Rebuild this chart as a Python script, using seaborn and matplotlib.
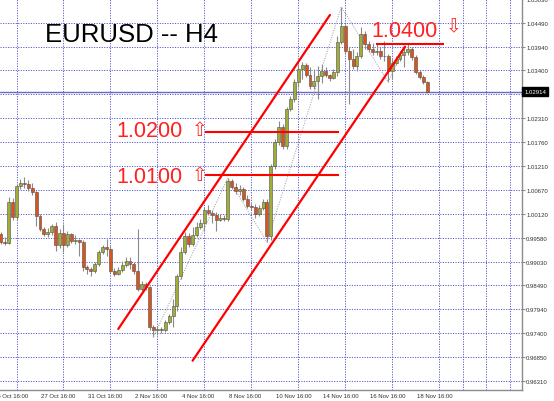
import numpy as np
import pandas as pd
import matplotlib
matplotlib.use("Agg")
import matplotlib.pyplot as plt
import matplotlib.transforms as mtransforms
import seaborn as sns

# EURUSD H4 candles, bar 0 = 27 Oct 16:00, first bar = -10
first_open = 0.9966
closes = [0.9948, 0.9946, 1.0039, 1.0005, 1.0076, 1.0083, 1.0080, 1.0071, 1.0062, 1.0007,
          0.9978, 0.9966, 0.9971, 0.9984, 0.9941, 0.9968, 0.9941, 0.9966, 0.9950, 0.9952,
          0.9948, 0.9891, 0.9886, 0.9882, 0.9898, 0.9925, 0.9936, 0.9932, 0.9882, 0.9875,
          0.9884, 0.9895, 0.9904, 0.9898, 0.9882, 0.9841, 0.9852, 0.9845, 0.9754, 0.9747,
          0.9749, 0.9747, 0.9765, 0.9779, 0.9802, 0.9870, 0.9925, 0.9962, 0.9943, 0.9964,
          0.9982, 0.9991, 1.0021, 1.0014, 1.0010, 0.9998, 1.0003, 1.0000, 1.0087, 1.0074,
          1.0064, 1.0069, 1.0046, 1.0030, 1.0028, 1.0012, 1.0026, 1.0039, 0.9962, 1.0122,
          1.0176, 1.0211, 1.0167, 1.0252, 1.0275, 1.0313, 1.0343, 1.0352, 1.0329, 1.0304,
          1.0316, 1.0327, 1.0339, 1.0329, 1.0323, 1.0336, 1.0405, 1.0441, 1.0384, 1.0366,
          1.0350, 1.0373, 1.0423, 1.0400, 1.0389, 1.0382, 1.0384, 1.0373, 1.0373, 1.0339,
          1.0357, 1.0366, 1.0375, 1.0382, 1.0389, 1.0370, 1.0336, 1.0325, 1.0313, 1.02914]
highs = [0.9971, 0.9959, 1.0051, 1.0048, 1.0080, 1.0092, 1.0096, 1.0090, 1.0083, 1.0064,
         1.0012, 0.9982, 0.9980, 0.9989, 0.9994, 0.9978, 0.9989, 0.9973, 0.9968, 0.9964,
         0.9955, 0.9952, 0.9895, 0.9891, 0.9902, 0.9930, 0.9941, 0.9955, 0.9939, 0.9888,
         0.9891, 0.9904, 0.9914, 0.9914, 0.9902, 0.9978, 0.9859, 0.9857, 0.9847, 0.9758,
         0.9756, 0.9754, 0.9770, 0.9783, 0.9818, 0.9875, 0.9936, 0.9971, 0.9968, 0.9982,
         0.9994, 1.0000, 1.0028, 1.0032, 1.0021, 1.0016, 1.0012, 1.0010, 1.0094, 1.0092,
         1.0083, 1.0078, 1.0074, 1.0055, 1.0037, 1.0035, 1.0032, 1.0046, 1.0046, 1.0126,
         1.0183, 1.0224, 1.0217, 1.0256, 1.0281, 1.0320, 1.0355, 1.0359, 1.0357, 1.0348,
         1.0343, 1.0350, 1.0355, 1.0348, 1.0332, 1.0343, 1.0418, 1.0485, 1.0446, 1.0393,
         1.0389, 1.0382, 1.0439, 1.0430, 1.0407, 1.0402, 1.0400, 1.0393, 1.0407, 1.0377,
         1.0366, 1.0373, 1.0384, 1.0396, 1.0400, 1.0393, 1.0375, 1.0341, 1.0329, 1.0316]
lows = [0.9943, 0.9941, 0.9943, 0.9998, 0.9998, 1.0069, 1.0071, 1.0064, 1.0055, 0.9984,
        0.9973, 0.9962, 0.9959, 0.9964, 0.9927, 0.9934, 0.9925, 0.9936, 0.9946, 0.9943,
        0.9916, 0.9882, 0.9875, 0.9870, 0.9877, 0.9893, 0.9920, 0.9916, 0.9877, 0.9870,
        0.9872, 0.9879, 0.9891, 0.9886, 0.9875, 0.9836, 0.9836, 0.9838, 0.9747, 0.9731,
        0.9735, 0.9740, 0.9742, 0.9761, 0.9754, 0.9790, 0.9863, 0.9920, 0.9936, 0.9939,
        0.9959, 0.9978, 0.9973, 1.0010, 0.9991, 0.9973, 0.9996, 0.9996, 0.9996, 1.0069,
        1.0058, 1.0055, 1.0042, 1.0026, 1.0021, 1.0003, 1.0007, 1.0021, 0.9948, 0.9952,
        1.0115, 1.0170, 1.0160, 1.0160, 1.0247, 1.0268, 1.0302, 1.0320, 1.0325, 1.0297,
        1.0297, 1.0275, 1.0311, 1.0325, 1.0316, 1.0320, 1.0327, 1.0400, 1.0377, 1.0263,
        1.0343, 1.0339, 1.0368, 1.0389, 1.0382, 1.0375, 1.0375, 1.0366, 1.0361, 1.0313,
        1.0320, 1.0352, 1.0361, 1.0348, 1.0375, 1.0364, 1.0332, 1.0320, 1.0309, 1.0288]

# zigzag swing points (bar, price)
zz_bars = [29, 48, 58, 77, 89, 93]
zz_prices = [0.9731, 1.0094, 0.9948, 1.0485, 1.0313, 1.0396]

# channel lines
upper_bars = [20.0, 74.1]
upper_prices = [0.97492, 1.04665]
lower_bars = [39.0, 93.3]
lower_prices = [0.96767, 1.03940]

# horizontal levels
levels = [1.0200, 1.0100, 1.0400]
level_start = [42.2, 42.2, 85.9]
level_end = [76.4, 76.4, 103.2]
level_text = ["1.0200", "1.0100", "1.0400"]
level_arrow = ["\u21e7", "\u21e7", "\u21e9"]

price_ticks = [0.96310, 0.96850, 0.97400, 0.97940, 0.98490, 0.99030, 0.99580, 1.00120,
               1.00670, 1.01210, 1.01760, 1.02310, 1.02850, 1.03400, 1.03940, 1.04490, 1.05030]
date_ticks = [-12, 0, 12, 24, 36, 48, 60, 72, 84, 96]
date_labels = ["25 Oct 16:00", "27 Oct 16:00", "31 Oct 16:00", "2 Nov 16:00", "4 Nov 16:00",
               "8 Nov 16:00", "10 Nov 16:00", "14 Nov 16:00", "16 Nov 16:00", "18 Nov 16:00"]

df = pd.DataFrame({"close": closes, "high": highs, "low": lows})
df["bar"] = np.arange(-10, -10 + len(df))
df["open"] = np.r_[first_open, df["close"].values[:-1]]
up = df["close"] >= df["open"]

sns.set_style("white")
plt.rcParams["font.family"] = ["Liberation Sans", "DejaVu Sans"]

fig = plt.figure(figsize=(5.54, 4.02), dpi=100)
ax = fig.add_axes([0, 11 / 402, 522 / 554, 391 / 402])
ax.set_xlim(-10.22, 123.18)
ax.set_ylim(0.96098, 1.05030)

# grid
grid_kw = dict(color="#5a5ad0", lw=0.7, linestyle=(0, (1.2, 1.4)))
ax.set_xticks(np.arange(-6, 124, 6), minor=True)
ax.set_xticks(date_ticks[1:])
ax.set_xticklabels([])
ax.set_yticks(price_ticks)
ax.set_yticklabels(["" if abs(v - 1.0285) < 1e-6 else "%.5f" % v for v in price_ticks])
ax.grid(True, which="minor", axis="x", **grid_kw)
ax.grid(True, which="major", axis="y", **grid_kw)
ax.set_axisbelow(True)

ax.yaxis.tick_right()
ax.tick_params(axis="y", length=2, pad=1, labelsize=4.3, colors="#8c8c8c", labelcolor="#303030")
ax.tick_params(axis="x", which="major", length=3, colors="#8c8c8c")
ax.tick_params(axis="x", which="minor", length=0)
for side in ["top", "left"]:
    ax.spines[side].set_visible(False)
for side in ["right", "bottom"]:
    ax.spines[side].set_color("#8c8c8c")
    ax.spines[side].set_linewidth(1.0)

xt = mtransforms.blended_transform_factory(ax.transData, ax.transAxes)
for b, lab in zip(date_ticks, date_labels):
    ax.text(b + 0.3, -0.014, lab, transform=xt, ha="left", va="center",
            fontsize=4.3, color="#303030", clip_on=False)

# current price line
last = df["close"].iloc[-1]
ax.axhline(last, color="#6a6ac4", lw=1.0, zorder=1.5)

# candles
ax.vlines(df["bar"], df["low"], df["high"], color="#8a8a8a", lw=0.8, zorder=2)
body_h = np.maximum((df["close"] - df["open"]).abs(), 0.00006)
ax.bar(df["bar"], body_h, bottom=np.minimum(df["open"], df["close"]), width=0.75,
       color=np.where(up, "#a0ae35", "#d9531a"), edgecolor="#505050", linewidth=0.4, zorder=3)

# zigzag
sns.lineplot(x=zz_bars, y=zz_prices, ax=ax, color="#9a9a9a", lw=0.7,
             linestyle=(0, (1, 1.5)), zorder=2.5)

# channel
sns.lineplot(x=upper_bars, y=upper_prices, ax=ax, color="#ff0000", lw=1.6, zorder=4)
sns.lineplot(x=lower_bars, y=lower_prices, ax=ax, color="#ff0000", lw=1.6, zorder=4)

# levels
ax.hlines(levels, level_start, level_end, color="#ff0000", lw=1.5, zorder=4)
text_pos = [(19.5, 1.01907), (19.4, 1.00843), (84.8, 1.04192)]
arrow_pos = [(38.8, 1.0204), (38.8, 1.0101), (103.7, 1.0441)]
for (tx, ty), (axx, ayy), t, a in zip(text_pos, arrow_pos, level_text, level_arrow):
    ax.text(tx, ty, t, fontsize=15.5, color="#ff2020", ha="left", va="baseline", zorder=5)
    ax.text(axx, ayy, a, fontsize=13.5, color="#ff3030", ha="left", va="center",
            family="DejaVu Sans", zorder=5)

ax.text(1.3, 1.04077, "EURUSD -- H4", fontsize=18.5, color="black", ha="left", va="baseline")

# price tag on the axis
yt = mtransforms.blended_transform_factory(ax.transAxes, ax.transData)
ax.text(1.004, last, "%.5f" % last, transform=yt, ha="left", va="center", fontsize=4.3,
        color="white", clip_on=False, zorder=10,
        bbox=dict(boxstyle="square,pad=0.35", fc="black", ec="black"))

ax.set_xlabel("")
ax.set_ylabel("")
plt.savefig("out.png", dpi=100)
